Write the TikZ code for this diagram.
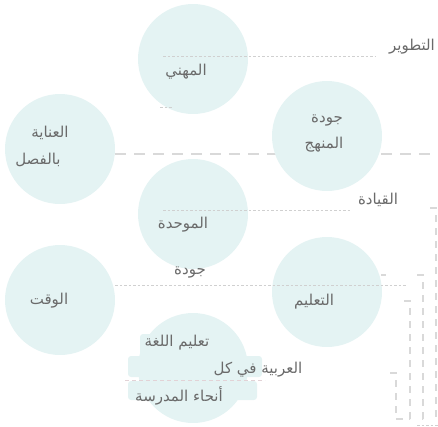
\documentclass[tikz,border=0pt]{standalone}
\usepackage{fontspec}
\newfontfamily\arabicfont[Script=Arabic]{DejaVu Sans}
\TeXXeTstate=1
\definecolor{circfill}{HTML}{E4F3F3}
\definecolor{txtgray}{HTML}{6A6A6A}
\definecolor{dashgray}{HTML}{D9D9D9}
\definecolor{dotgray}{HTML}{D0D0D0}
\definecolor{pinkdash}{HTML}{E2D2D6}
\newcommand\artxt[1]{\beginR #1\endR}
\begin{document}
\begin{tikzpicture}[x=1pt,y=-1pt,
  bubble/.style={circle, fill=circfill, minimum size=110pt, inner sep=0pt},
  lbl/.style={font=\arabicfont\fontsize{15}{17}\selectfont, text=txtgray, inner sep=0pt},
  thickdash/.style={draw=dashgray, line width=2.4pt, dash pattern=on 11pt off 8pt},
  dotline/.style={draw=dotgray, line width=0.8pt, dash pattern=on 2.5pt off 2pt},
  pinkline/.style={draw=pinkdash, line width=1pt, dash pattern=on 4pt off 3pt},
  bracket/.style={draw=dashgray, line width=1.6pt, dash pattern=on 7pt off 6pt},
  halo/.style={fill=circfill, rounded corners=3pt}]
\useasboundingbox (0,0) rectangle (438,426);
% thick dashed line behind circles
\coordinate (ta) at (115,154);
\coordinate (tb) at (438,154);
\draw[thickdash] (ta) -- (tb);
% circles
\node[bubble] (c1) at (193,59) {};
\node[bubble] (c2) at (327,136) {};
\node[bubble] (c3) at (60,149) {};
\node[bubble] (c4) at (193,214) {};
\node[bubble] (c5) at (60,300) {};
\node[bubble] (c6) at (327,292) {};
\node[bubble] (c7) at (193,368) {};
% text halos in bottom circle
\fill[halo] (140,334) rectangle (215,355);
\fill[halo] (128,356) rectangle (262,377);
\fill[halo] (128,381) rectangle (257,400);
% thin dotted lines
\coordinate (d1a) at (163,56);  \coordinate (d1b) at (376,56);
\draw[dotline] (d1a) -- (d1b);
\coordinate (d2a) at (160,107); \coordinate (d2b) at (173,107);
\draw[dotline] (d2a) -- (d2b);
\coordinate (d3a) at (163,210); \coordinate (d3b) at (350,210);
\draw[dotline] (d3a) -- (d3b);
\coordinate (d4a) at (115,285); \coordinate (d4b) at (406,285);
\draw[dotline] (d4a) -- (d4b);
\coordinate (pa) at (125,380); \coordinate (pb) at (265,380);
\draw[pinkline] (pa) -- (pb);
% right-hand dashed brackets
\coordinate (k0) at (381,275);
\draw[bracket] (k0) -- ++(5,0);
\coordinate (k1) at (430,208);
\draw[bracket] (k1) -- (436,208) -- (436,421) -- (438,421);
\coordinate (k2) at (417,275);
\draw[bracket] (k2) -- (423,275) -- (423,419) -- (429,419);
\coordinate (k3) at (404,301);
\draw[bracket] (k3) -- (410,301) -- (410,419) -- (416,419);
\coordinate (k4) at (390,373);
\draw[bracket] (k4) -- (396,373) -- (396,419) -- (403,419);
\coordinate (e1) at (417,425); \coordinate (e2) at (438,425);
\draw[dotline] (e1) -- (e2);
% labels
\node[lbl] (t1) at (412,47) {\artxt{التطوير}};
\node[lbl] (t2) at (186,72) {\artxt{المهني}};
\node[lbl] (t3a) at (327,120) {\artxt{جودة}};
\node[lbl] (t3b) at (324,145) {\artxt{المنهج}};
\node[lbl] (t4a) at (50,133) {\artxt{العناية}};
\node[lbl] (t4b) at (38,160) {\artxt{بالفصل}};
\node[lbl] (t5) at (183,225) {\artxt{الموحدة}};
\node[lbl] (t6) at (190,272) {\artxt{جودة}};
\node[lbl] (t7) at (49,301) {\artxt{الوقت}};
\node[lbl] (t8) at (314,302) {\artxt{التعليم}};
\node[lbl] (t9) at (378,200) {\artxt{القيادة}};
\node[lbl] (t10a) at (177,343) {\artxt{تعليم اللغة}};
\node[lbl] (t10b) at (258,370) {\artxt{العربية في كل}};
\node[lbl] (t10c) at (179,396) {\artxt{أنحاء المدرسة}};
\end{tikzpicture}
\end{document}
